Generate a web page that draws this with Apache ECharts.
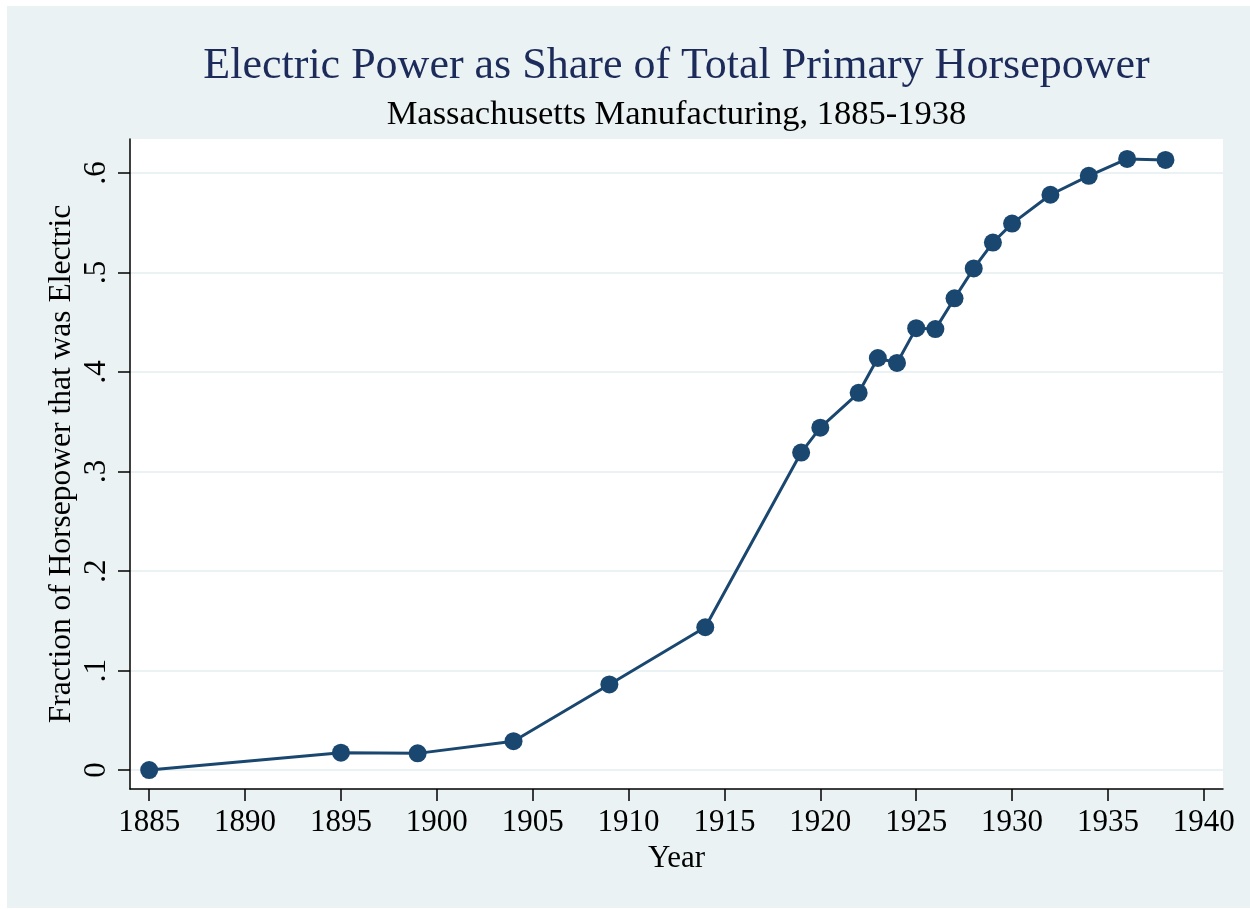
<!DOCTYPE html>
<html>
<head>
<meta charset="utf-8">
<script src="https://cdn.jsdelivr.net/npm/echarts@6/dist/echarts.min.js"></script>
<style>
html,body{margin:0;padding:0;background:#ffffff;}
#c{position:absolute;left:7px;top:6px;width:1243px;height:902px;}
</style>
</head>
<body>
<div id="c"></div>
<script>
const years = [1885, 1895, 1899, 1904, 1909, 1914, 1919, 1920, 1922, 1923, 1924, 1925, 1926, 1927, 1928, 1929, 1930, 1932, 1934, 1936, 1938];
const shares = [0.000, 0.0175, 0.0168, 0.029, 0.086, 0.1435, 0.319, 0.344, 0.379, 0.414, 0.409, 0.444, 0.443, 0.474, 0.504, 0.530, 0.549, 0.578, 0.597, 0.614, 0.613];
const xTicks = [1885, 1890, 1895, 1900, 1905, 1910, 1915, 1920, 1925, 1930, 1935, 1940];
const xTickLabels = ['1885', '1890', '1895', '1900', '1905', '1910', '1915', '1920', '1925', '1930', '1935', '1940'];
const yTicks = [0, 0.1, 0.2, 0.3, 0.4, 0.5, 0.6];
const yTickLabels = ['0', '.1', '.2', '.3', '.4', '.5', '.6'];
const titleText = 'Electric Power as Share of Total Primary Horsepower';
const subtitleText = 'Massachusetts Manufacturing, 1885-1938';
const xTitle = 'Year';
const yTitle = 'Fraction of Horsepower that was Electric';

const FONT = '"Liberation Serif", "Times New Roman", serif';
const chart = echarts.init(document.getElementById('c'));
const gridLeft = 123, gridTop = 133, gridW = 1093, gridH = 650;
const centerX = gridLeft + gridW / 2 - 5;

chart.setOption({
  backgroundColor: '#EAF2F3',
  animation: false,
  title: [
    { text: titleText, left: centerX, top: 33, textAlign: 'center',
      textStyle: { fontFamily: FONT, fontSize: 44, fontWeight: 'normal', color: '#1C2B5A' } },
    { text: subtitleText, left: centerX, top: 86, textAlign: 'center',
      textStyle: { fontFamily: FONT, fontSize: 34.5, fontWeight: 'normal', color: '#000000' } }
  ],
  grid: { left: gridLeft, top: gridTop, width: gridW, height: gridH, show: true,
          backgroundColor: '#ffffff', borderWidth: 0, containLabel: false },
  xAxis: {
    type: 'value', min: 1884, max: 1941,
    name: xTitle, nameLocation: 'middle', nameGap: 52,
    nameTextStyle: { fontFamily: FONT, fontSize: 31, color: '#000' },
    axisLine: { show: true, onZero: false, lineStyle: { color: '#000', width: 1.5 } },
    axisTick: { show: true, length: 12, customValues: xTicks, lineStyle: { color: '#000', width: 1.5 } },
    axisLabel: { customValues: xTicks, margin: 18, fontFamily: FONT, fontSize: 31, color: '#000',
      formatter: function (v) { const i = xTicks.indexOf(v); return i >= 0 ? xTickLabels[i] : ''; } },
    splitLine: { show: false }
  },
  yAxis: {
    type: 'value', min: -0.019, max: 0.634,
    name: yTitle, nameLocation: 'middle', nameGap: 52, nameRotate: 90, nameMoveOverlap: false,
    nameTextStyle: { fontFamily: FONT, fontSize: 31.5, color: '#000' },
    axisLine: { show: true, onZero: false, lineStyle: { color: '#000', width: 1.5 } },
    axisTick: { show: true, length: 12, customValues: yTicks, lineStyle: { color: '#000', width: 1.5 } },
    axisLabel: { customValues: yTicks, margin: 18, rotate: 90, fontFamily: FONT, fontSize: 31, color: '#000',
      formatter: function (v) { const i = yTicks.indexOf(v); return i >= 0 ? yTickLabels[i] : ''; } },
    splitLine: { show: true, lineStyle: { color: '#EAF2F3', width: 2 } }
  },
  series: [{
    type: 'line',
    data: years.map((y, i) => [y, shares[i]]),
    symbol: 'circle', symbolSize: 18,
    itemStyle: { color: '#1A476F' },
    lineStyle: { color: '#1A476F', width: 3 },
    clip: false
  }]
});
</script>
</body>
</html>
